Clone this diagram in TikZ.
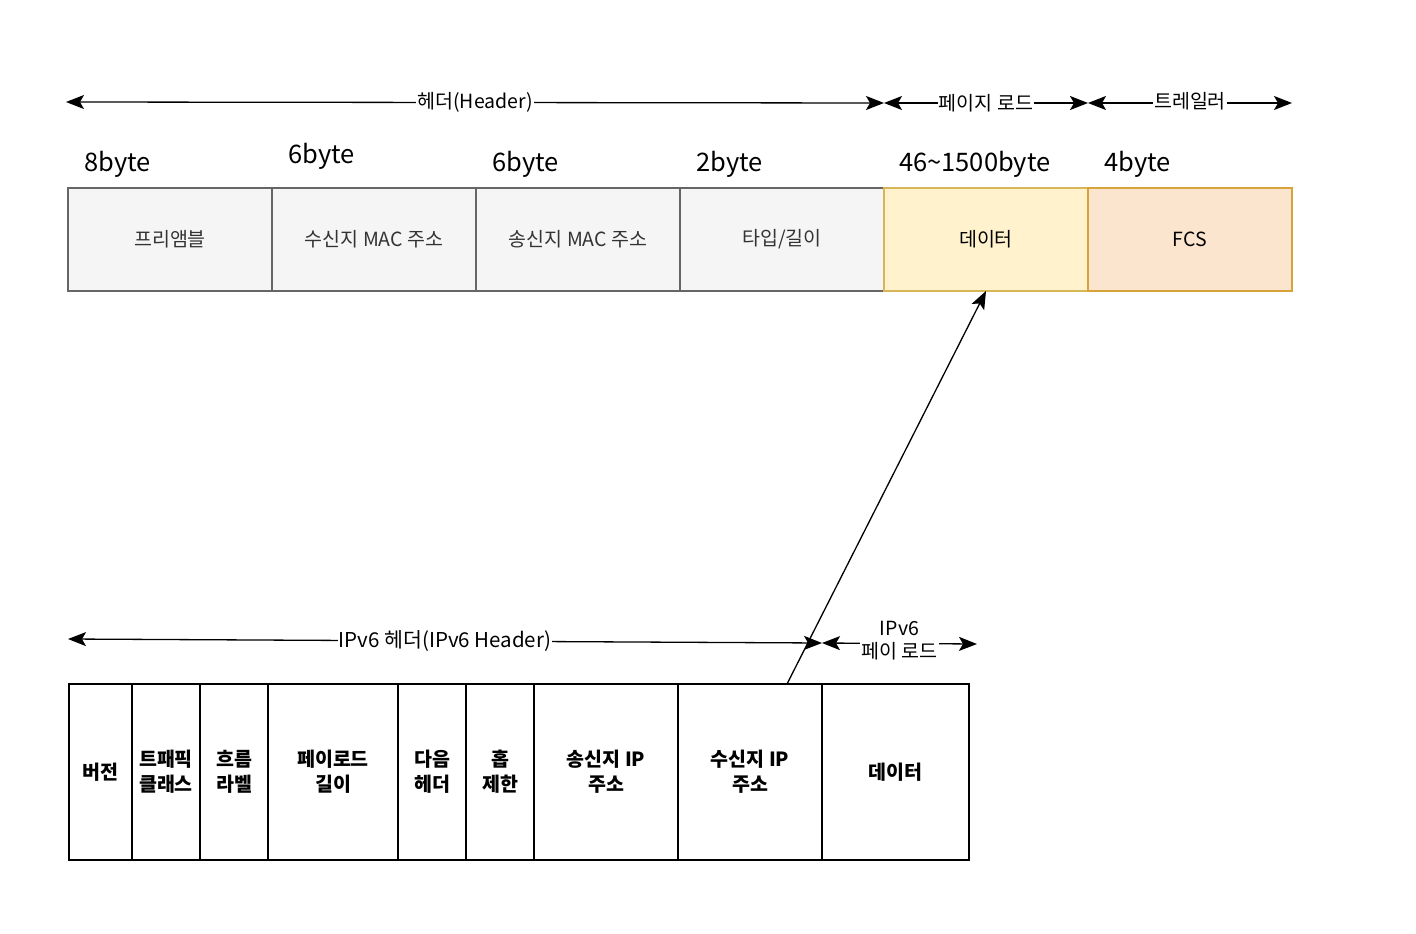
\documentclass[tikz,border=0pt]{standalone}
\usepackage{fontspec}
\setmainfont{Noto Sans CJK KR}
\usetikzlibrary{arrows.meta,positioning}
\definecolor{grayfill}{HTML}{F5F5F5}
\definecolor{grayline}{HTML}{666666}
\definecolor{grattext}{HTML}{333333}
\definecolor{datafill}{HTML}{FFF2CC}
\definecolor{dataline}{HTML}{D6B656}
\definecolor{fcsfill}{HTML}{FBE5CF}
\definecolor{fcsline}{HTML}{D8A23A}
\tikzset{
  field/.style={draw=grayline, fill=grayfill, text=grattext, line width=1.2pt,
    minimum width=204pt, minimum height=103pt, outer sep=0pt,
    font=\fontsize{19.5}{23}\selectfont},
  datafield/.style={field, draw=dataline, fill=datafill, text=black},
  fcsfield/.style={field, draw=fcsline, fill=fcsfill, text=black},
  ipfield/.style={draw, line width=1.3pt, minimum height=176pt, outer sep=0pt,
    align=center, font=\fontsize{19.5}{25}\selectfont\bfseries},
  bytelbl/.style={anchor=west, inner sep=0pt, font=\fontsize{25.5}{30}\selectfont},
  spanlbl/.style={fill=white, inner sep=1pt, align=center, font=\fontsize{19.5}{23}\selectfont},
  dimline/.style={line width=1.3pt, <->},
  link/.style={line width=1.3pt, ->}
}
\begin{document}
\begin{tikzpicture}[x=1pt,y=-1pt,>={Stealth[length=18pt,width=14pt,inset=4pt]}]
  \useasboundingbox (0,0) rectangle (1416,934);
  \node[field, anchor=north west] (pre) at (68,188) {프리앰블};
  \node[field, right=0pt of pre] (dmac) {수신지 MAC 주소};
  \node[field, right=0pt of dmac] (smac) {송신지 MAC 주소};
  \node[field, right=0pt of smac] (type) {타입/길이};
  \node[datafield, right=0pt of type] (data) {데이터};
  \node[fcsfield, right=0pt of data] (fcs) {FCS};

  \node[bytelbl] (b_pre) at ([xshift=16pt,yshift=24pt]pre.north west) {8byte};
  \node[bytelbl] (b_dmac) at ([xshift=16pt,yshift=32pt]dmac.north west) {6byte};
  \node[bytelbl] (b_smac) at ([xshift=16pt,yshift=24pt]smac.north west) {6byte};
  \node[bytelbl] (b_type) at ([xshift=16pt,yshift=24pt]type.north west) {2byte};
  \node[bytelbl] (b_data) at ([xshift=15pt,yshift=24pt]data.north west) {46\textasciitilde1500byte};
  \node[bytelbl] (b_fcs) at ([xshift=16pt,yshift=24pt]fcs.north west) {4byte};

  \coordinate (h0) at (66,102);
  \coordinate (h1) at (884,103);
  \coordinate (h2) at (1088,103);
  \coordinate (h3) at (1292,103);
  \draw[dimline] (h0) -- node[spanlbl] {헤더(Header)} (h1);
  \draw[dimline] (h1) -- node[spanlbl] {페이지 로드} (h2);
  \draw[dimline] (h2) -- node[spanlbl, yshift=2pt] {트레일러} (h3);

  \node[ipfield, minimum width=63pt, anchor=north west] (ver) at (69,684) {버전};
  \node[ipfield, minimum width=68pt, right=0pt of ver] (tc) {트패픽\\클래스};
  \node[ipfield, minimum width=68pt, right=0pt of tc] (flow) {흐름\\라벨};
  \node[ipfield, minimum width=130pt, right=0pt of flow] (plen) {페이로드\\길이};
  \node[ipfield, minimum width=68pt, right=0pt of plen] (nh) {다음\\헤더};
  \node[ipfield, minimum width=68pt, right=0pt of nh] (hop) {홉\\제한};
  \node[ipfield, minimum width=144pt, right=0pt of hop] (sip) {송신지 IP\\주소};
  \node[ipfield, minimum width=144pt, right=0pt of sip] (dip) {수신지 IP\\주소};
  \node[ipfield, minimum width=147pt, right=0pt of dip] (ipdata) {데이터};

  \coordinate (i0) at (68,639);
  \coordinate (i1) at (822,643);
  \coordinate (i2) at (977,644);
  \draw[dimline] (i0) -- node[spanlbl, font=\fontsize{20.5}{23}\selectfont] {IPv6 헤더(IPv6 Header)} (i1);
  \draw[dimline] (i1) -- node[spanlbl, yshift=3pt] {IPv6\\페이 로드} (i2);

  \draw[link] ([xshift=37pt]dip.north) -- (data.south);
\end{tikzpicture}
\end{document}
